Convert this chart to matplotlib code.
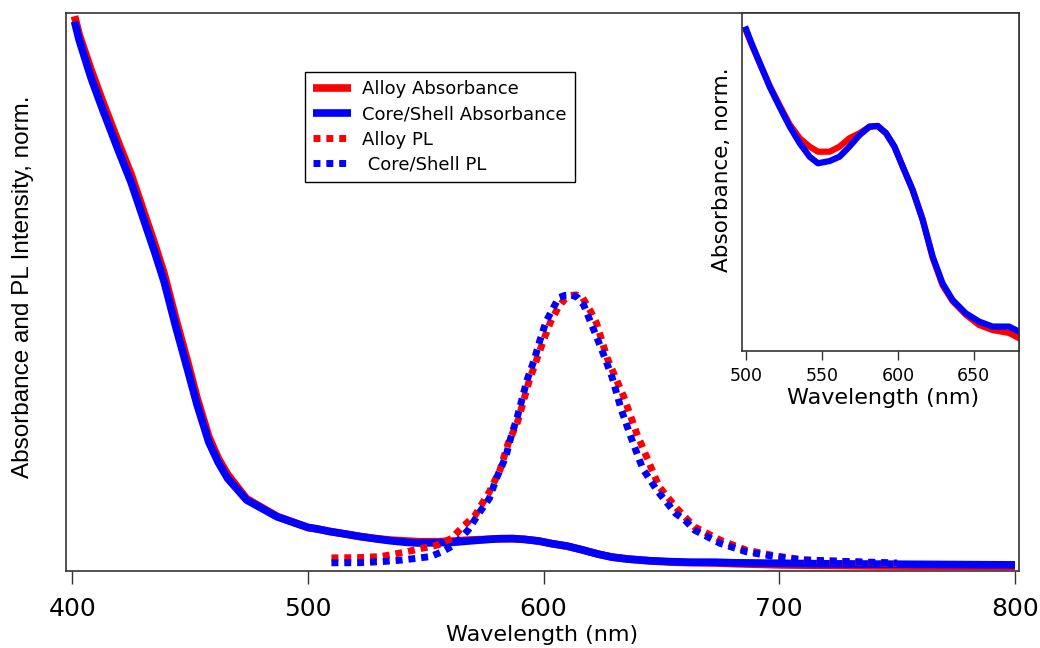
import matplotlib
matplotlib.use("Agg")
import matplotlib.pyplot as plt

plt.rcParams['font.family'] = ['DejaVu Sans']

# Absorbance spectra, normalized (shared wavelength grid, nm)
abs_wl = [401, 403, 408, 413, 420, 425, 430, 435, 439, 444, 449, 453, 458, 462,
          466, 474, 487, 500, 504, 509, 516, 522, 529, 535, 542, 547, 555, 562,
          568, 575, 581, 587, 592, 598, 603, 610, 616, 623, 629, 636, 645, 654,
          662, 673, 680, 700, 720, 740, 760, 780, 800]
abs_coreshell = [2.02, 1.95, 1.81, 1.69, 1.53, 1.42, 1.29, 1.16, 1.05, 0.88, 0.72,
                 0.59, 0.45, 0.375, 0.315, 0.235, 0.172, 0.133, 0.127, 0.118,
                 0.108, 0.099, 0.090, 0.083, 0.077, 0.0745, 0.0755, 0.0775, 0.082,
                 0.087, 0.0905, 0.091, 0.088, 0.082, 0.073, 0.063, 0.050, 0.0335,
                 0.022, 0.0145, 0.0086, 0.005, 0.003, 0.003, 0.001, -0.001, -0.003,
                 -0.004, -0.005, -0.006, -0.007]
abs_alloy = [2.04, 1.97, 1.84, 1.72, 1.56, 1.45, 1.32, 1.19, 1.08, 0.91, 0.75,
             0.615, 0.47, 0.39, 0.33, 0.24, 0.174, 0.132, 0.127, 0.118, 0.108,
             0.099, 0.091, 0.0855, 0.082, 0.0795, 0.0795, 0.082, 0.0855, 0.0877,
             0.0905, 0.091, 0.088, 0.082, 0.073, 0.063, 0.050, 0.0335, 0.022,
             0.0145, 0.008, 0.0035, 0.0013, 0.0, -0.0023, -0.007, -0.009,
             -0.011, -0.012, -0.012, -0.013]

# Photoluminescence spectra, normalized to peak
pl_cs_wl = [510, 521, 531, 540, 552, 557, 562, 568, 573, 577, 580, 584, 586,
            589, 593, 596, 598.5, 601, 604, 606.5, 609, 612, 614.5, 617, 621,
            625, 629, 633, 637, 642, 648, 656, 660, 664, 675, 686, 698, 710,
            731, 750]
pl_cs = [0.001, 0.001, 0.005, 0.011, 0.024, 0.042, 0.067, 0.123, 0.191, 0.241,
         0.316, 0.397, 0.465, 0.55, 0.683, 0.757, 0.832, 0.9, 0.95, 0.99,
         0.998, 1.0, 0.99, 0.963, 0.876, 0.788, 0.695, 0.571, 0.471, 0.353,
         0.272, 0.185, 0.160, 0.123, 0.073, 0.042, 0.024, 0.011, 0.005, 0.0]

pl_alloy_wl = [510, 521, 531, 542, 549, 555, 561, 565, 571, 577, 581.5, 585,
               589, 594, 597, 600, 603, 606, 609, 611.5, 614, 616.5, 620, 622.5,
               627, 634, 639.5, 649, 656.5, 664, 675, 686, 698, 710, 731, 750]
pl_alloy = [0.019, 0.020, 0.024, 0.042, 0.056, 0.067, 0.092, 0.129, 0.179,
            0.266, 0.347, 0.447, 0.527, 0.683, 0.757, 0.832, 0.9, 0.95, 0.985,
            0.998, 1.0, 0.99, 0.938, 0.894, 0.764, 0.621, 0.484, 0.285, 0.204,
            0.135, 0.085, 0.048, 0.027, 0.012, 0.004, -0.002]

# Detailed absorbance for the inset (500-680 nm)
inset_wl = [500, 503.5, 509, 515.5, 522, 528.7, 535.3, 541.8, 547.3, 555, 561.5,
            568, 574.7, 581.3, 586.7, 592.2, 597.7, 603.2, 609.7, 616.3, 622.9,
            629.4, 636, 644.8, 653.5, 662.3, 673.2, 679.8]
inset_coreshell = [0.1333, 0.1272, 0.1184, 0.1081, 0.0993, 0.0906, 0.0833,
                   0.0774, 0.0745, 0.0755, 0.0774, 0.0818, 0.0869, 0.0906,
                   0.0909, 0.0877, 0.0818, 0.0730, 0.0628, 0.0496, 0.0335,
                   0.0218, 0.0145, 0.0086, 0.0050, 0.0028, 0.0028, 0.0006]
inset_alloy = [0.1325, 0.1268, 0.1184, 0.1085, 0.1000, 0.0915, 0.0855,
               0.0818, 0.0796, 0.0796, 0.0818, 0.0855, 0.0877, 0.0906,
               0.0909, 0.0877, 0.0818, 0.0730, 0.0628, 0.0500, 0.0330,
               0.0210, 0.0140, 0.0080, 0.0035, 0.0013, 0.0000, -0.0023]

RED = '#ff0000'
BLUE = '#0000ff'
SPINE = '#333333'

fig = plt.figure(figsize=(10.4, 6.48), dpi=100, facecolor='white')
ax = fig.add_axes([0.0635, 0.1193, 0.9163, 0.8599])

ax.plot(abs_wl, abs_alloy, color=RED, lw=5.5, label='Alloy Absorbance',
        solid_capstyle='butt')
ax.plot(abs_wl, abs_coreshell, color=BLUE, lw=5.5, label='Core/Shell Absorbance',
        solid_capstyle='butt')
ax.plot(pl_alloy_wl, pl_alloy, color=RED, lw=5, linestyle=(0, (1, 0.85)),
        label='Alloy PL')
ax.plot(pl_cs_wl, pl_cs, color=BLUE, lw=5, linestyle=(0, (1, 0.85)),
        label=' Core/Shell PL')

ax.set_xlim(397.4, 801.7)
ax.set_ylim(-0.0287, 2.05)
ax.set_xticks([400, 500, 600, 700, 800])
ax.set_yticks([])
ax.tick_params(axis='x', direction='out', length=9.5, width=1, colors=SPINE,
               labelsize=18, labelcolor='black', pad=9.5)
for s in ax.spines.values():
    s.set_color(SPINE)
    s.set_linewidth(1.2)

ax.set_xlabel('Wavelength (nm)', fontsize=16)
ax.xaxis.set_label_coords(0.5, -0.098)
ax.xaxis.label.set_va('top')
ax.set_ylabel('Absorbance and PL Intensity, norm.', fontsize=17.5,
              family=['Liberation Sans', 'DejaVu Sans'])
ax.yaxis.set_label_coords(-0.034, 0.51)

leg = ax.legend(loc='upper left', bbox_to_anchor=(305 / 1040, 1 - 72 / 648),
                bbox_transform=fig.transFigure, borderaxespad=0,
                fontsize=13, handlelength=2.1, handletextpad=0.6,
                labelspacing=0.4, borderpad=0.45, fancybox=False,
                framealpha=1, edgecolor='black')
leg.get_frame().set_linewidth(1.0)

# Inset: zoom on the first excitonic feature
axin = fig.add_axes([0.7137, 0.4588, 0.9798 - 0.7137, 0.8599 + 0.1193 - 0.4588])
axin.plot(inset_wl, inset_alloy, color=RED, lw=4.5)
axin.plot(inset_wl, inset_coreshell, color=BLUE, lw=4.5)
axin.set_xlim(497.4, 679.8)
axin.set_ylim(-0.0078, 0.1403)
axin.set_xticks([500, 550, 600, 650])
axin.set_yticks([])
axin.tick_params(axis='x', direction='out', length=6.5, width=1, colors=SPINE,
                 labelsize=12.5, labelcolor='black', pad=5.5)
for s in axin.spines.values():
    s.set_color(SPINE)
    s.set_linewidth(1.2)
axin.set_xlabel('Wavelength (nm)', fontsize=16)
axin.xaxis.set_label_coords(0.508, -0.112)
axin.xaxis.label.set_va('top')
axin.set_ylabel('Absorbance, norm.', fontsize=15.5)
axin.yaxis.set_label_coords(-0.038, 0.536)

fig.savefig('out.png', dpi=100, facecolor='white')
